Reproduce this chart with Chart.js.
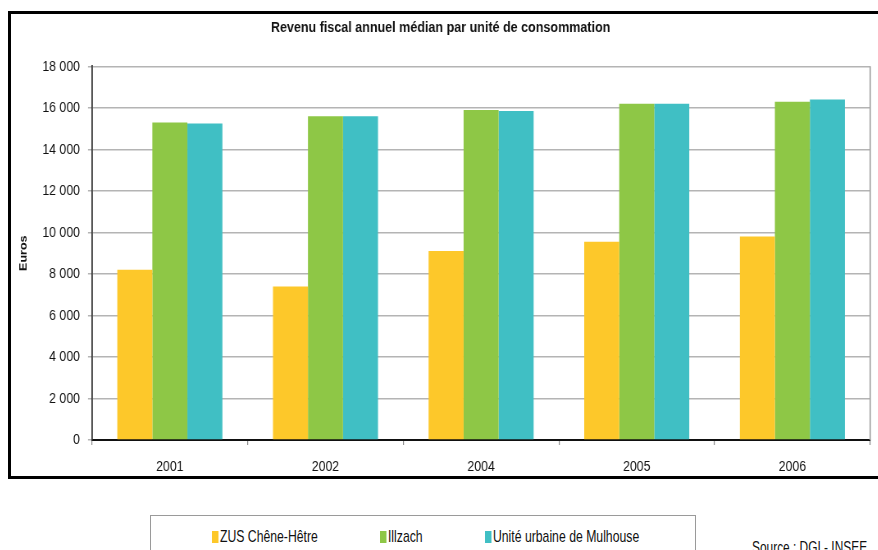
<!DOCTYPE html>
<html lang="fr">
<head>
<meta charset="utf-8">
<script src="https://cdn.jsdelivr.net/npm/chart.js@4/dist/chart.umd.min.js"></script>
<style>
  html, body { margin: 0; padding: 0; background: #fff; overflow: hidden; }
  body { width: 878px; height: 550px; position: relative; font-family: "Liberation Sans", Arial, sans-serif; }
  .cadre { position: absolute; left: 8px; top: 11px; width: 869px; height: 462px; border: 3px solid #000; overflow: hidden; }
  /* police étroite : le graphique est dessiné plus large puis resserré */
  .etire { width: 1060px; height: 462px; transform: scaleX(0.82); transform-origin: 0 0; }
  .legende {
    position: absolute; left: 150px; top: 515px; width: 546px; height: 50px;
    border: 1px solid #9a9a9a; box-sizing: border-box;
    font-size: 17px; line-height: 17px; color: #111;
  }
  .legende span { position: absolute; top: 12px; white-space: nowrap; transform: scaleX(0.72); transform-origin: 0 0; }
  .legende i { display: inline-block; width: 9px; height: 12px; margin-right: 2px; vertical-align: -1px; }
  .source {
    position: absolute; left: 752px; top: 539px; white-space: nowrap;
    font-size: 17px; line-height: 17px; color: #111;
    transform: scaleX(0.70); transform-origin: 0 0;
  }
</style>
</head>
<body>
<div class="cadre"><div class="etire"><canvas id="revenu"></canvas></div></div>
<div class="legende" id="legende"></div>
<div class="source">Source : DGI - INSEE</div>

<script>
// --- Données ---
const annees = ['2001', '2002', '2004', '2005', '2006'];
const zusCheneHetre = [8200, 7400, 9100, 9550, 9800];
const illzach = [15300, 15600, 15900, 16200, 16300];
const uniteMulhouse = [15250, 15600, 15850, 16200, 16400];

const series = [
    { label: 'ZUS Chêne-Hêtre', data: zusCheneHetre, color: '#fdc82a' },
    { label: 'Illzach', data: illzach, color: '#8ec746' },
    { label: 'Unité urbaine de Mulhouse', data: uniteMulhouse, color: '#40bfc4' }
];

// 18 000 (espace comme séparateur de milliers)
const formatEuros = (v) => String(v).replace(/\B(?=(\d{3})+(?!\d))/g, ' ');

// cadre gris à droite de la zone de tracé
const bordDroit = {
    id: 'bordDroit',
    afterDraw(chart) {
        const { ctx, chartArea } = chart;
        ctx.save();
        ctx.strokeStyle = '#a8a8a8';
        ctx.lineWidth = 1.8;
        ctx.beginPath();
        ctx.moveTo(chartArea.right, chartArea.top);
        ctx.lineTo(chartArea.right, chartArea.bottom);
        ctx.stroke();
        ctx.restore();
    }
};

const ctx = document.getElementById('revenu').getContext('2d');
new Chart(ctx, {
    type: 'bar',
    data: {
        labels: annees,
        datasets: series.map(s => ({
            label: s.label,
            data: s.data,
            backgroundColor: s.color,
            borderWidth: 0,
            categoryPercentage: 0.675,
            barPercentage: 1
        }))
    },
    options: {
        responsive: true,
        maintainAspectRatio: false,
        animation: false,
        layout: { padding: { left: 0, right: 12.2, top: 0, bottom: 0 } },
        plugins: {
            legend: { display: false },
            tooltip: { enabled: false },
            title: {
                display: true,
                text: 'Revenu fiscal annuel médian par unité de consommation',
                color: '#111',
                font: { family: 'Liberation Sans', size: 15.3, weight: 'bold' },
                padding: { top: 5, bottom: 29 }
            }
        },
        scales: {
            x: {
                grid: { offset: true, drawOnChartArea: false, drawTicks: true, tickLength: 5, color: '#888', lineWidth: 1.2 },
                border: { color: '#111', width: 2 },
                ticks: { color: '#111', font: { family: 'Liberation Sans', size: 15 }, padding: 13 },
                afterFit: (s) => { s.height = 36; }
            },
            y: {
                min: 0,
                max: 18000,
                ticks: {
                    stepSize: 2000,
                    color: '#111',
                    padding: 9.8,
                    font: { family: 'Liberation Sans', size: 15 },
                    callback: (v) => formatEuros(v)
                },
                grid: { color: '#b4b4b4', lineWidth: 1.5, tickLength: 4.9 },
                border: { color: '#333', width: 1.8 },
                title: {
                    display: true,
                    text: 'Euros',
                    color: '#111',
                    font: { family: 'Liberation Sans', size: 12.5, weight: 'bold' },
                    padding: { top: 8, bottom: 0 }
                },
                afterFit: (s) => { s.width = 98.8; }
            }
        }
    },
    plugins: [bordDroit]
});

// légende sous le graphique
const legende = document.getElementById('legende');
const positions = [61, 229, 334];
series.forEach((s, i) => {
    const item = document.createElement('span');
    item.style.left = positions[i] + 'px';
    item.innerHTML = `<i style="background:${s.color}"></i>${s.label}`;
    legende.appendChild(item);
});
</script>
</body>
</html>
